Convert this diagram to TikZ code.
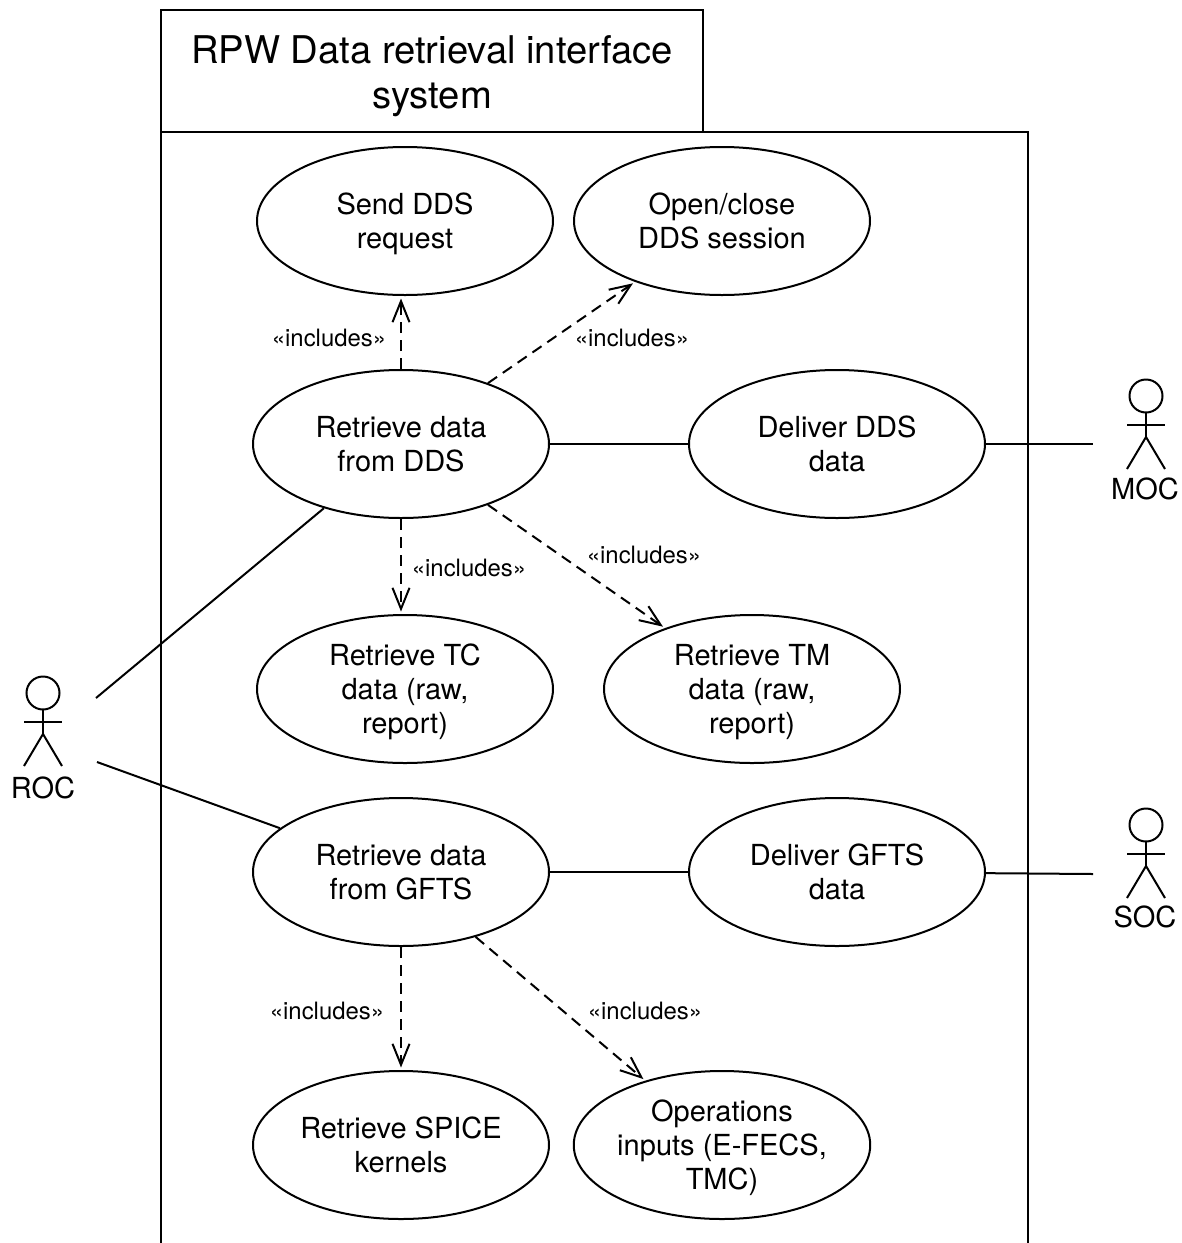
\documentclass[tikz,border=0pt]{standalone}
\usepackage{fontspec}
\setmainfont{TeX Gyre Heros}
\usetikzlibrary{arrows.meta,shapes.geometric}
\tikzset{
  uc/.style={draw=black,line width=2pt,fill=white,ellipse,minimum width=296pt,minimum height=148pt,inner sep=0pt,align=center,font=\fontsize{29}{34}\selectfont,execute at begin node=\strut,text depth=0pt},
  dep/.style={draw=black,line width=2pt,dash pattern=on 11pt off 7pt,shorten >=2.5pt,-{Straight Barb[length=21pt,width=17pt,line width=2pt]}},
  assoc/.style={draw=black,line width=2pt},
  lbl/.style={inner sep=0pt,font=\fontsize{23.9}{26}\selectfont},
  actname/.style={inner sep=0pt,font=\fontsize{29}{32}\selectfont},
  frameln/.style={draw=black,line width=2pt},
}
\newcommand{\actor}[2]{%
  \draw[frameln] (#1,#2) circle (16.5pt);
  \draw[frameln] (#1,#2+16.5) -- (#1,#2+41);
  \draw[frameln] (#1-19,#2+29) -- (#1+19,#2+29);
  \draw[frameln] (#1-19,#2+73) -- (#1,#2+41) -- (#1+19,#2+73);
}
\begin{document}
\begin{tikzpicture}[x=1pt,y=-1pt]
\useasboundingbox (0,0) rectangle (1182,1243);
% frame
\draw[frameln] (161,1243) -- (161,10) -- (703,10) -- (703,132);
\draw[frameln] (161,132) -- (1028,132) -- (1028,1243);
\node[inner sep=0pt,align=center,font=\fontsize{38.2}{45}\selectfont] (title) at (432,76.5) {RPW Data retrieval interface\\system};
% use cases
\node[uc] (send) at (405,221) {Send DDS\\request};
\node[uc] (open) at (722,221) {Open/close\\DDS session};
\node[uc] (rdds) at (401,444) {Retrieve data\\from DDS};
\node[uc] (ddds) at (837,444) {Deliver DDS\\data};
\node[uc] (rtc) at (405,689) {Retrieve TC\\data (raw,\\report)};
\node[uc] (rtm) at (752,689) {Retrieve TM\\data (raw,\\report)};
\node[uc] (rgfts) at (401,872) {Retrieve data\\from GFTS};
\node[uc] (dgfts) at (837,872) {Deliver GFTS\\data};
\node[uc] (spice) at (401,1145) {Retrieve SPICE\\kernels};
\node[uc] (ops) at (722,1145) {Operations\\inputs (E-FECS,\\TMC)};
% actors
\actor{43}{693}
\actor{1146}{396}
\actor{1146}{825}
\node[actname] (roc) at (43,788) {ROC};
\node[actname] (moc) at (1145,489) {MOC};
\node[actname] (soc) at (1145,917) {SOC};
\coordinate (rocA) at (96,698);
\coordinate (rocB) at (97,762);
\coordinate (mocA) at (1093,444);
\coordinate (socA) at (1093,874);
% associations
\draw[assoc] (rocA) -- (rdds);
\draw[assoc] (rocB) -- (rgfts);
\draw[assoc] (rdds) -- (ddds);
\draw[assoc] (rgfts) -- (dgfts);
\draw[assoc] (ddds) -- (mocA);
\draw[assoc] (dgfts) -- (socA);
% includes
\draw[dep] (rdds.north) -- (rdds.north |- send.south);
\draw[dep] (rdds.35) -- (open.215);
\draw[dep] (rdds.south) -- (rdds.south |- rtc.north);
\draw[dep] (rdds.-35) -- (rtm.145);
\draw[dep] (rgfts.south) -- (rgfts.south |- spice.north);
\draw[dep] (rgfts.-41) -- (ops.140);
\node[lbl] (i1) at (329,338) {«includes»};
\node[lbl] (i2) at (632,338) {«includes»};
\node[lbl] (i3) at (469,568) {«includes»};
\node[lbl] (i4) at (644,555) {«includes»};
\node[lbl] (i5) at (327,1011) {«includes»};
\node[lbl] (i6) at (645,1011) {«includes»};
\end{tikzpicture}
\end{document}
